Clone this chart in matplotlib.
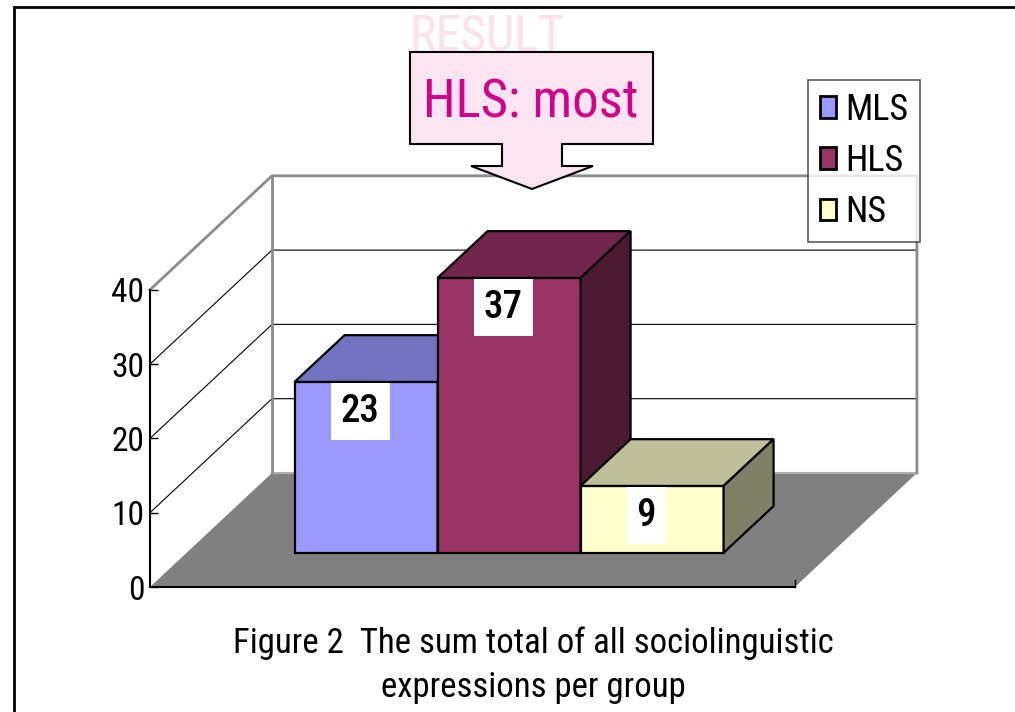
import matplotlib.pyplot as plt
from matplotlib.patches import Polygon, Patch, Rectangle

# data
groups = ["MLS", "HLS", "NS"]
values = [23, 37, 9]
front_colors = ["#9999ff", "#993366", "#ffffcc"]
top_colors = ["#7272c0", "#73264d", "#bfbf99"]
side_colors = ["#4d4d80", "#4d1a33", "#808066"]
yticks = [0, 10, 20, 30, 40]
caption = "Figure 2  The sum total of all sociolinguistic\nexpressions per group"

plt.rcParams["font.family"] = ["Roboto Condensed", "DejaVu Sans"]

W, H = 1015, 712
fig = plt.figure(figsize=(W / 100, H / 100), dpi=100)
ax = fig.add_axes([0, 0, 1, 1])

# scale: x in bar-width units (143 px), y in value units (7.43 px)
px_x, px_y = 143.0, 7.43
x0_px, y0_px = 150, 587
ax.set_xlim(-x0_px / px_x, (W - x0_px) / px_x)
ax.set_ylim(-(H - y0_px) / px_y, y0_px / px_y)

# oblique depth vector (one full floor depth)
DX, DY = 122 / px_x, 114 / px_y
floor_w = 4.51
ymax = 40
margin = (floor_w - len(values)) / 2
d_front, d_depth = 0.30, 0.41

# floor
ax.add_patch(Polygon([(0, 0), (floor_w, 0), (floor_w + DX, DY), (DX, DY)],
                     closed=True, facecolor="#808080", edgecolor="none", zorder=1))
ax.plot([0, floor_w], [0, 0], color="black", lw=1.5, zorder=2)
ax.plot([floor_w, floor_w], [0, 1.0], color="black", lw=1, zorder=2)
ax.plot([DX, floor_w + DX], [DY, DY], color="#b0b0b0", lw=1.5, zorder=1.5)

# walls and gridlines
for v in yticks[1:-1]:
    ax.plot([0, DX, DX + floor_w], [v, v + DY, v + DY], color="black", lw=0.8, zorder=1.5)
gray = "#8c8c8c"
ax.plot([0, DX, DX + floor_w, DX + floor_w], [ymax, ymax + DY, ymax + DY, DY],
        color=gray, lw=2, zorder=1.6)
ax.plot([DX, DX], [DY, ymax + DY], color=gray, lw=2, zorder=1.6)

# bars
fx, fy = d_front * DX, d_front * DY
bx, by = d_depth * DX, d_depth * DY
lefts = [margin + i + fx for i in range(len(values))]
bars = ax.bar(lefts, values, width=1, bottom=fy, align="edge",
              color=front_colors, edgecolor="black", linewidth=1.6)
for i, (xl, v) in enumerate(zip(lefts, values)):
    z = 3 + i
    bars[i].set_zorder(z)
    top = fy + v
    ax.add_patch(Polygon([(xl, top), (xl + 1, top), (xl + 1 + bx, top + by), (xl + bx, top + by)],
                         closed=True, facecolor=top_colors[i], edgecolor="black", lw=1.6, zorder=z))
    ax.add_patch(Polygon([(xl + 1, fy), (xl + 1, top), (xl + 1 + bx, top + by), (xl + 1 + bx, fy + by)],
                         closed=True, facecolor=side_colors[i], edgecolor="black", lw=1.6, zorder=z))
    ax.text(xl + 0.46, v + 0.6, str(v), ha="center", va="center", fontsize=28,
            fontweight="medium", zorder=10,
            bbox=dict(boxstyle="square,pad=0.25", facecolor="white", edgecolor="none"))

# y axis on front-left edge
for s in ["top", "right", "bottom"]:
    ax.spines[s].set_visible(False)
ax.spines["left"].set_position(("data", 0))
ax.spines["left"].set_bounds(0, ymax)
ax.spines["left"].set_linewidth(1.5)
ax.set_yticks(yticks)
ax.set_xticks([])
ax.tick_params(axis="y", direction="in", length=6, width=1, labelsize=24, pad=4)
ax.patch.set_visible(False)

# legend
handles = [Patch(facecolor=c, edgecolor="black", lw=2) for c in front_colors]
leg = fig.legend(handles, groups, loc="upper left", bbox_to_anchor=(808 / W, 1 - 80 / H),
                 fontsize=26, frameon=True, fancybox=False, handlelength=0.45, handleheight=0.55,
                 handletextpad=0.25, labelspacing=0.42, borderpad=0.33, borderaxespad=0)
leg.get_frame().set_edgecolor("#303030")
leg.get_frame().set_linewidth(1.2)

# callout
def fpt(x, y):
    return (x / W, 1 - y / H)

fig.text(*fpt(487, 37), "RESULT", ha="center", va="center", fontsize=36, color="#fbe3ee", zorder=1)
callout = [(410, 52), (653, 52), (653, 144), (562, 144), (562, 166), (593, 166), (532, 189),
           (471, 166), (502, 166), (502, 144), (410, 144)]
fig.patches.append(Polygon([fpt(x, y) for x, y in callout], closed=True, transform=fig.transFigure,
                           facecolor="#fae5f0", edgecolor="black", lw=1.5, zorder=20))
fig.text(*fpt(531, 103), "HLS: most", ha="center", va="center", fontsize=38, color="#d4008a", zorder=21)

# caption
fig.text(533 / W, 1 - 665 / H, caption, ha="center", va="center", fontsize=25, linespacing=1.4)

# outer frame
fig.patches.append(Rectangle(fpt(14, 730), 1.2, (730 - 7) / H, transform=fig.transFigure,
                             fill=False, edgecolor="black", lw=2))

fig.savefig("out.png", dpi=100)
